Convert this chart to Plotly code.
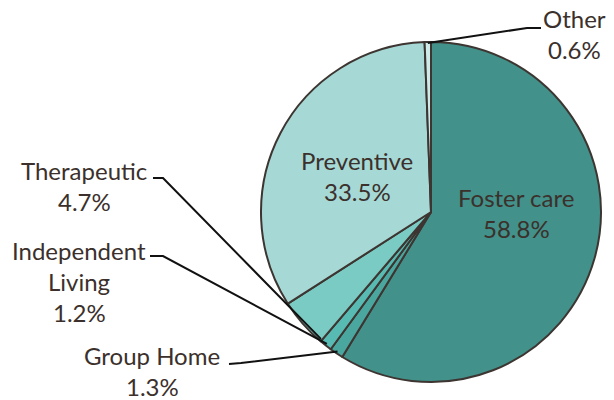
import math
import plotly.graph_objects as go

# data, clockwise from 12 o'clock
labels = ["Foster care", "Group Home", "Independent Living", "Therapeutic", "Preventive", "Other"]
values = [58.8, 1.3, 1.2, 4.7, 33.5, 0.6]
colors = ["#42918a", "#4aa79f", "#58bbb3", "#7acbc4", "#a6d9d6", "#cdebe9"]

# label text lines for each slice
label_lines = {
    "Foster care": ["Foster care", "58.8%"],
    "Group Home": ["Group Home", "1.3%"],
    "Independent Living": ["Independent", "Living", "1.2%"],
    "Therapeutic": ["Therapeutic", "4.7%"],
    "Preventive": ["Preventive", "33.5%"],
    "Other": ["Other", "0.6%"],
}

W, H = 614, 400
CX, CY, R = 431, 212, 170
TEXT = "#3b302b"
FONT = "Lato"
FSIZE = 24
LINE_H = 31


def px(x):
    return x / W


def py(y):
    return 1 - y / H


fig = go.Figure(go.Pie(
    labels=labels,
    values=values,
    sort=False,
    direction="clockwise",
    rotation=0,
    textinfo="none",
    hoverinfo="label+percent",
    marker=dict(colors=colors, line=dict(color="#3d3531", width=2)),
    domain=dict(x=[px(CX - R), px(CX + R)], y=[py(CY + R), py(CY - R)]),
    showlegend=False,
))

total = sum(values)
cum = {}
acc = 0
for lab, v in zip(labels, values):
    cum[lab] = (acc / total * 360, (acc + v) / total * 360)
    acc += v


def edge(angle, rr=R):
    a = math.radians(angle)
    return CX + rr * math.sin(a), CY - rr * math.cos(a)


annotations = []


def add_text(lines, x, yc, anchor="center"):
    n = len(lines)
    for i, t in enumerate(lines):
        y = yc + (i - (n - 1) / 2) * LINE_H
        annotations.append(dict(
            x=px(x), y=py(y), xref="paper", yref="paper", text=t,
            showarrow=False, xanchor=anchor, yanchor="middle",
            font=dict(family=FONT, size=FSIZE, color=TEXT),
        ))


# inside labels
add_text(label_lines["Foster care"], 516, 213)
add_text(label_lines["Preventive"], 357, 176)

# outside labels
add_text(label_lines["Other"], 574, 34)
add_text(label_lines["Therapeutic"], 84, 186)
add_text(label_lines["Independent Living"], 79, 281)
add_text(label_lines["Group Home"], 152, 371)

shapes = []


def leader(points):
    path = "M " + " L ".join(f"{px(x):.5f},{py(y):.5f}" for x, y in points)
    shapes.append(dict(type="path", xref="paper", yref="paper", path=path,
                       line=dict(color="#111111", width=2)))


s, e = cum["Other"]
leader([(541, 28), (527, 28), edge((s + e) / 2, R - 1)])
s, e = cum["Therapeutic"]
leader([(153, 178), (163, 178), edge(s + 0.5, R - 2)])
s, e = cum["Independent Living"]
leader([(150, 256), (163, 256), edge((s + e) / 2, R - 2)])
s, e = cum["Group Home"]
leader([(229, 364), (241, 363), edge((s + e) / 2, R - 2)])

fig.update_layout(
    width=W, height=H,
    margin=dict(l=0, r=0, t=0, b=0),
    paper_bgcolor="white",
    plot_bgcolor="white",
    annotations=annotations,
    shapes=shapes,
)

# drop the page's default body margin so the figure sits at the window's corner
fig.write_html("out.html", config={"displayModeBar": False},
               post_script="document.body.style.margin='0';")
